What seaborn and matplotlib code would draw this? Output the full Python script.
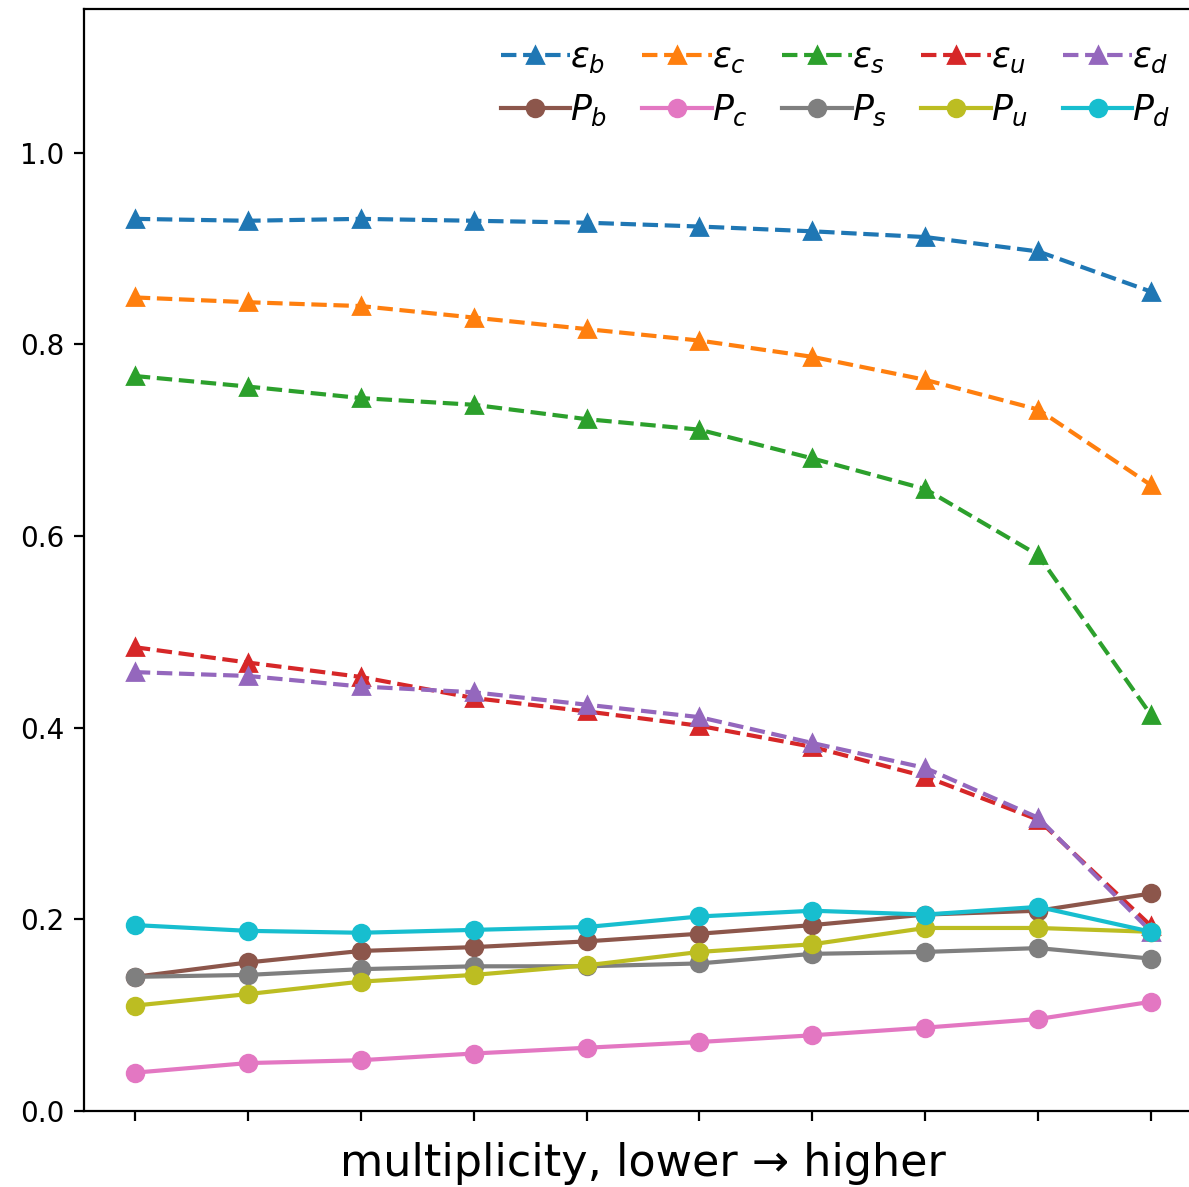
import numpy as np
import pandas as pd
import matplotlib
matplotlib.use("Agg")
import matplotlib.pyplot as plt
import seaborn as sns

# multiplicity bins (lower -> higher)
bins = list(range(10))

eps_b = [0.931, 0.929, 0.931, 0.929, 0.927, 0.923, 0.918, 0.912, 0.897, 0.855]
eps_c = [0.849, 0.844, 0.840, 0.828, 0.816, 0.804, 0.787, 0.763, 0.732, 0.653]
eps_s = [0.767, 0.756, 0.744, 0.737, 0.722, 0.711, 0.681, 0.649, 0.580, 0.413]
eps_u = [0.484, 0.468, 0.453, 0.431, 0.417, 0.402, 0.380, 0.349, 0.304, 0.193]
eps_d = [0.458, 0.454, 0.443, 0.437, 0.424, 0.411, 0.384, 0.358, 0.306, 0.187]

P_b = [0.140, 0.155, 0.167, 0.171, 0.177, 0.185, 0.194, 0.205, 0.209, 0.227]
P_c = [0.040, 0.050, 0.053, 0.060, 0.066, 0.072, 0.079, 0.087, 0.096, 0.114]
P_s = [0.140, 0.142, 0.148, 0.151, 0.151, 0.154, 0.164, 0.166, 0.170, 0.159]
P_u = [0.110, 0.122, 0.135, 0.142, 0.152, 0.166, 0.174, 0.191, 0.191, 0.187]
P_d = [0.194, 0.188, 0.186, 0.189, 0.192, 0.203, 0.209, 0.205, 0.213, 0.187]

eps_series = [("b", eps_b), ("c", eps_c), ("s", eps_s), ("u", eps_u), ("d", eps_d)]
P_series = [("b", P_b), ("c", P_c), ("s", P_s), ("u", P_u), ("d", P_d)]

yticks = [0.0, 0.2, 0.4, 0.6, 0.8, 1.0]
xlabel = "multiplicity, lower \u2192 higher"

palette = sns.color_palette("tab10", 10)

fig = plt.figure(figsize=(5.945, 5.935), dpi=200)
ax = fig.add_axes([84 / 1189, 76 / 1187, 1118 / 1189, 1102 / 1187])

for i, (q, vals) in enumerate(eps_series):
    df = pd.DataFrame({"x": bins, "y": vals})
    c = palette[i]
    sns.lineplot(data=df, x="x", y="y", ax=ax, color=c, linestyle="--",
                 marker="^", markersize=6, markeredgecolor=c,
                 markeredgewidth=1.0, linewidth=1.5, label=rf"$\varepsilon_{q}$")
for i, (q, vals) in enumerate(P_series):
    df = pd.DataFrame({"x": bins, "y": vals})
    c = palette[5 + i]
    sns.lineplot(data=df, x="x", y="y", ax=ax, color=c, linestyle="-",
                 marker="o", markersize=6, markeredgecolor=c,
                 markeredgewidth=1.0, linewidth=1.5, label=rf"$P_{q}$")

h, l = ax.get_legend_handles_labels()
order = []
for k in range(5):
    order += [k, 5 + k]
ax.legend([h[o] for o in order], [l[o] for o in order], ncol=5,
          frameon=False, loc="upper right", fontsize=12.5,
          handletextpad=0.0, columnspacing=1.0)

ax.set_xlim(-0.45, 9.45)
ax.set_ylim(0, 1.15)
ax.set_xticks(bins)
ax.set_xticklabels([])
ax.set_yticks(yticks)
ax.set_yticklabels([f"{v:.1f}" for v in yticks])
ax.set_ylabel("")
ax.set_xlabel(xlabel, fontsize=16)

fig.savefig("out.png", dpi=200)
